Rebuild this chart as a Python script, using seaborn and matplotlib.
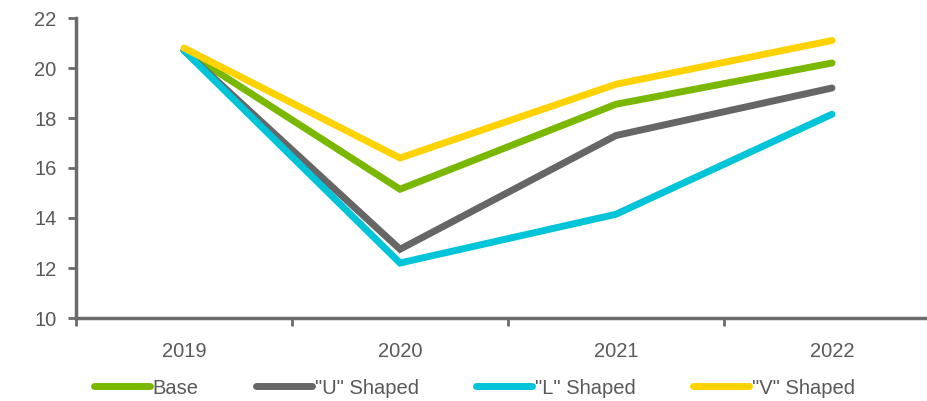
import pandas as pd
import numpy as np
import matplotlib.pyplot as plt
import seaborn as sns
from matplotlib.ticker import FixedLocator, NullFormatter

# --- data ---
years = ['2019', '2020', '2021', '2022']
base = [20.7, 15.15, 18.55, 20.2]
u_shaped = [20.7, 12.75, 17.3, 19.2]
l_shaped = [20.7, 12.2, 14.15, 18.15]
v_shaped = [20.8, 16.4, 19.35, 21.1]

series_names = ['Base', '"U" Shaped', '"L" Shaped', '"V" Shaped']
series_vals = [base, u_shaped, l_shaped, v_shaped]
colors = ['#7AB800', '#666666', '#00C4D8', '#FFD200']

rows = []
for name, vals in zip(series_names, series_vals):
    for i, v in enumerate(vals):
        rows.append({'pos': i, 'year': years[i], 'value': v, 'scenario': name})
df = pd.DataFrame(rows)

sns.set_theme(style='white')
plt.rcParams['font.family'] = ['Liberation Sans', 'DejaVu Sans']
txt = '#595959'
axc = '#6b6b6b'
fs = 14.5

fig = plt.figure(figsize=(9.28, 4.01), dpi=100)
ax = fig.add_axes([76 / 928, 1 - 318 / 401, (940 - 76) / 928, 300 / 401])

sns.lineplot(data=df, x='pos', y='value', hue='scenario', hue_order=series_names,
             palette=colors, linewidth=5, ax=ax, legend=False,
             solid_capstyle='round', solid_joinstyle='miter')

ax.set_xlim(-0.5, 3.5)
ax.set_ylim(10, 22)
ax.set_yticks(np.arange(10, 23, 2))

# category labels in the middle, tick marks on the boundaries
ax.set_xticks(range(len(years)))
ax.set_xticklabels(years)
ax.xaxis.set_minor_locator(FixedLocator([-0.5, 0.5, 1.5, 2.5, 3.5]))
ax.xaxis.set_minor_formatter(NullFormatter())
ax.tick_params(axis='x', which='major', length=0, pad=17, labelsize=fs, labelcolor=txt)
ax.tick_params(axis='x', which='minor', length=6, width=2, color=axc, direction='out', bottom=True)
ax.tick_params(axis='y', length=6, width=2, color=axc, direction='out', left=True,
               pad=8, labelsize=fs, labelcolor=txt)

for s in ['top', 'right']:
    ax.spines[s].set_visible(False)
for s in ['left', 'bottom']:
    ax.spines[s].set_color(axc)
    ax.spines[s].set_linewidth(2.5)
ax.set_xlabel('')
ax.set_ylabel('')

handles = [plt.Line2D([0], [0], color=c, lw=5, solid_capstyle='round') for c in colors]
fig.legend(handles, series_names, loc='center', bbox_to_anchor=(0.511, 1 - 388 / 401),
           ncol=4, frameon=False, handlelength=2.8, handletextpad=0.12,
           columnspacing=2.85, fontsize=fs, labelcolor=txt)

fig.savefig('out.png', dpi=100)
